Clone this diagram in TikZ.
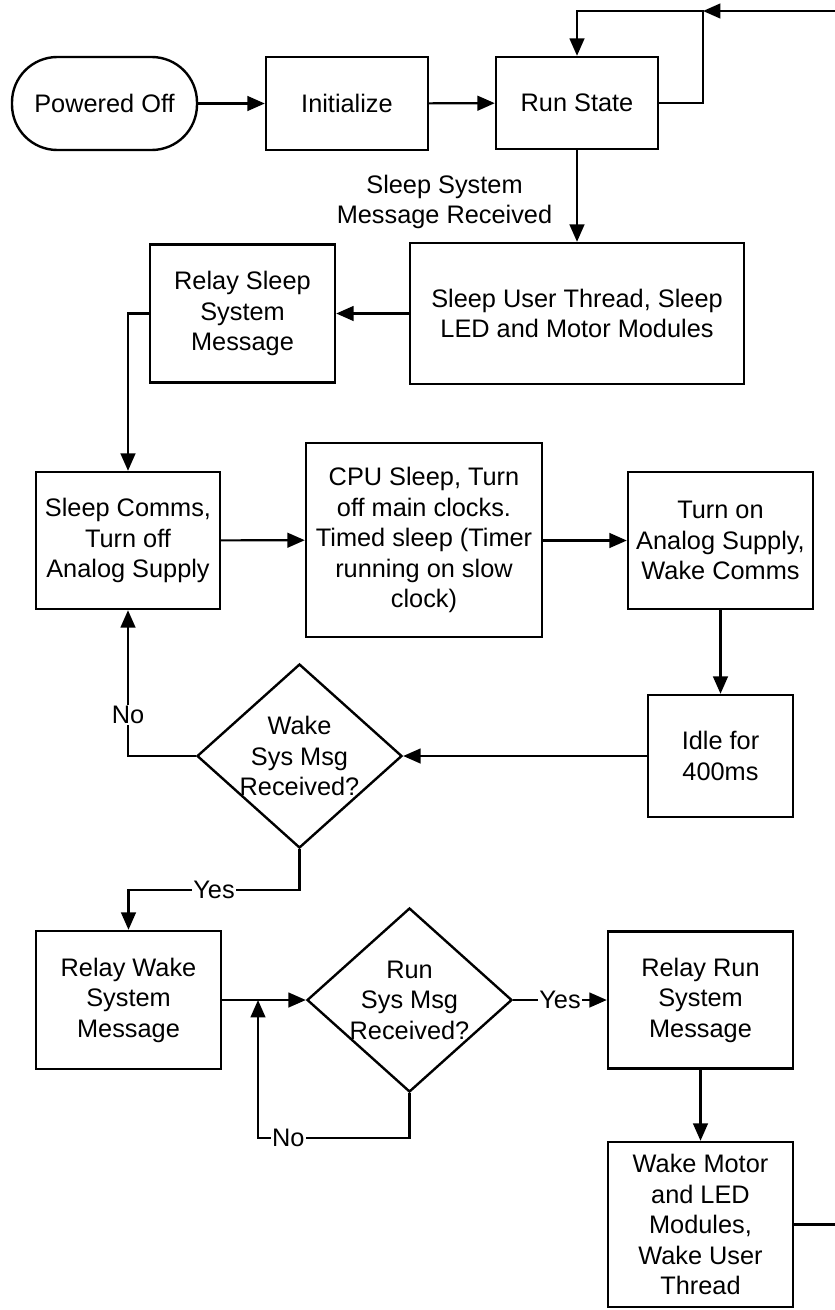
\documentclass[tikz,border=0pt]{standalone}
\usepackage{fontspec}
\setmainfont{Liberation Sans}
\usetikzlibrary{arrows.meta,shapes.geometric}
\tikzset{
  sz/.style 2 args={minimum width=#1*0.75pt, minimum height=#2*0.75pt},
  box/.style={draw, line width=1.8pt, align=center, inner sep=0pt},
  decision/.style={draw, shape=diamond, line width=1.8pt, inner sep=0pt, sz={205}{184}},
  ln/.style={line width=1.6pt},
  arr/.style={line width=1.6pt, -{Triangle[length=13pt,width=11pt]}},
  lbl/.style={fill=white, inner sep=1pt},
}
\begin{document}
\begin{tikzpicture}[x=0.75pt, y=-0.75pt, font=\fontsize{19}{22.9}\selectfont]
\useasboundingbox (0,0) rectangle (835,1310);
% nodes
\node[box, sz={185}{93}, rounded corners=34pt] (off) at (104.5,103.5) {Powered Off};
\node[box, sz={162}{93}] (init) at (347,103.5) {Initialize};
\node[box, sz={162}{92}] (run) at (577,103) {Run State};
\node[align=center] (sslab) at (444.5,202) {Sleep System\\Message Received};
\node[box, sz={334}{141}] (sleepU) at (577,313.5) {Sleep User Thread, Sleep\\LED and Motor Modules};
\node[box, sz={185}{138}] (relayS) at (242.5,313.5) {Relay Sleep\\System\\Message};
\node[box, sz={184}{137}] (commS) at (128,540.5) {Sleep Comms,\\Turn off\\Analog Supply};
\node[box, sz={236}{194}] (cpu) at (424,540) {CPU Sleep, Turn\\off main clocks.\\Timed sleep (Timer\\running on slow\\clock)};
\node[box, sz={185}{137}] (anaS) at (720.5,540.5) {Turn on\\Analog Supply,\\Wake Comms};
\node[box, sz={145}{122}] (idle) at (720.5,756) {Idle for\\400ms};
\node[decision, label={[align=center]center:Wake\\Sys Msg\\Received?}] (wakeD) at (299.5,756) {};
\node[box, sz={185}{138}] (relayW) at (128.5,1000) {Relay Wake\\System\\Message};
\node[decision, label={[align=center]center:Run\\Sys Msg\\Received?}] (runD) at (409.5,1000) {};
\node[box, sz={185}{137}] (relayR) at (700.5,1000) {Relay Run\\System\\Message};
\node[box, sz={185}{165}] (wakeM) at (700.5,1224.5) {Wake Motor\\and LED\\Modules,\\Wake User\\Thread};
% coordinates
\coordinate (loopTop) at (703,11);
\coordinate (rightTop) at (835,11);
\coordinate (rightBot) at (835,1224.5);
\coordinate (j1) at (128.5,890);
\coordinate (j2) at (258,1138);
\coordinate (j3) at (258,1000);
% connectors
\draw[arr] (off) -- (init);
\draw[arr] (init) -- (run);
\draw[arr] (run.east) -| (loopTop) -| (run.north);
\draw[arr] (rightTop) -- (loopTop);
\draw[ln] (wakeM.east) -- (rightBot);
\draw[arr] (run) -- (sleepU);
\draw[arr] (sleepU.west) -- (sleepU.west -| relayS.east);
\draw[arr] (relayS.west) -| (commS.north);
\draw[arr] (commS) -- (cpu);
\draw[arr] (cpu.east |- anaS.west) -- (anaS.west);
\draw[arr] (anaS) -- (idle);
\draw[arr] (idle.west) -- (wakeD.east);
\draw[arr] (wakeD.west) -| node[lbl, pos=0.64] {No} (commS.south);
\draw[arr] (wakeD.south) |- node[lbl, pos=0.75] {Yes} (j1) -- (relayW.north);
\draw[arr] (relayW.east) -- (runD.west);
\draw[arr] (runD.south) |- node[lbl, pos=0.9] {No} (j2) -- (j3);
\draw[arr] (runD.east) -- node[lbl] {Yes} (relayR.west);
\draw[arr] (relayR) -- (wakeM);
\end{tikzpicture}
\end{document}
